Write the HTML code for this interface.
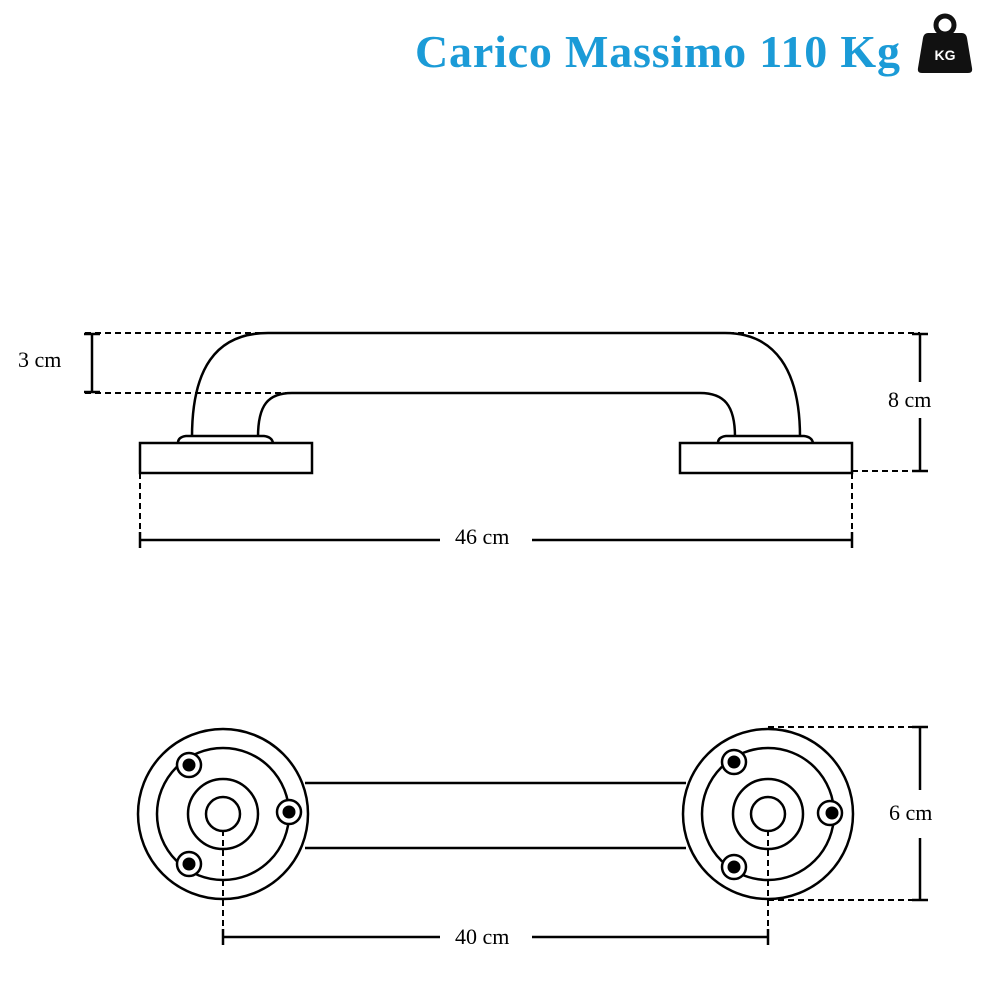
<!DOCTYPE html>
<html><head><style>
html,body{margin:0;padding:0;background:#fff;}
svg{display:block}
</style></head><body>
<svg width="1000" height="1000" viewBox="0 0 1000 1000" xmlns="http://www.w3.org/2000/svg">
<text x="415" y="67" font-family="Liberation Serif, serif" font-weight="bold" font-size="46" fill="#1b9bd7" textLength="485" lengthAdjust="spacing">Carico Massimo 110 Kg</text>
<circle cx="945" cy="25" r="9" fill="none" stroke="#111" stroke-width="5"/>
<path d="M928 33 H962 Q966 33 967 38 L972 68 Q973 73 968 73 H922 Q917 73 918 68 L923 38 Q924 33 928 33Z" fill="#111"/>
<text x="945" y="60" text-anchor="middle" font-family="Liberation Sans, sans-serif" font-weight="bold" font-size="14" fill="#fff">KG</text>

<g fill="none" stroke="#000" stroke-width="2.5">
<path d="M192 437 C192 370 215 333 268 333 H725 C775 333 800 370 800 437"/>
<path d="M258 437 C258 405 268 393 292 393 H700 C724 393 735 405 735 437"/>
<path d="M178 443 Q178 437 186 436 H264 Q272 437 273 443"/>
<path d="M718 443 Q718 437 726 436 H804 Q812 437 813 443"/>
<rect x="140" y="443" width="172" height="30"/>
<rect x="680" y="443" width="172" height="30"/>
</g>
<g stroke="#000" stroke-width="2" stroke-dasharray="6,4" fill="none">
<line x1="85" y1="333" x2="262" y2="333"/>
<line x1="85" y1="393" x2="292" y2="393"/>
<line x1="728" y1="333" x2="920" y2="333"/>
<line x1="852" y1="471" x2="920" y2="471"/>
<line x1="140" y1="473" x2="140" y2="540"/>
<line x1="852" y1="473" x2="852" y2="540"/>
<line x1="768" y1="727" x2="920" y2="727"/>
<line x1="768" y1="900" x2="920" y2="900"/>
<line x1="223" y1="830" x2="223" y2="937"/>
<line x1="768" y1="830" x2="768" y2="937"/>
</g>
<g stroke="#000" stroke-width="2.5" fill="none">
<line x1="92" y1="333" x2="92" y2="393"/>
<line x1="84" y1="334" x2="100" y2="334"/><line x1="84" y1="392" x2="100" y2="392"/>
<line x1="920" y1="333" x2="920" y2="382"/><line x1="920" y1="418" x2="920" y2="471"/>
<line x1="912" y1="334" x2="928" y2="334"/><line x1="912" y1="471" x2="928" y2="471"/>
<line x1="140" y1="540" x2="440" y2="540"/><line x1="532" y1="540" x2="852" y2="540"/>
<line x1="140" y1="532" x2="140" y2="548"/><line x1="852" y1="532" x2="852" y2="548"/>
<line x1="920" y1="727" x2="920" y2="790"/><line x1="920" y1="838" x2="920" y2="900"/>
<line x1="912" y1="727" x2="928" y2="727"/><line x1="912" y1="900" x2="928" y2="900"/>
<line x1="223" y1="937" x2="440" y2="937"/><line x1="532" y1="937" x2="768" y2="937"/>
<line x1="223" y1="929" x2="223" y2="945"/><line x1="768" y1="929" x2="768" y2="945"/>
</g>
<g font-family="Liberation Serif, serif" font-size="22" fill="#000">
<text x="18" y="367">3 cm</text>
<text x="888" y="407">8 cm</text>
<text x="455" y="544">46 cm</text>
<text x="889" y="820">6 cm</text>
<text x="455" y="944">40 cm</text>
</g>

<g fill="none" stroke="#000" stroke-width="2.5">
<line x1="305" y1="783" x2="686" y2="783"/>
<line x1="305" y1="848" x2="686" y2="848"/>
<circle cx="223" cy="814" r="85"/>
<circle cx="768" cy="814" r="85"/>
<circle cx="223" cy="814" r="35"/><circle cx="223" cy="814" r="17"/>
<circle cx="768" cy="814" r="35"/><circle cx="768" cy="814" r="17"/>
<circle cx="223" cy="814" r="66"/>
<circle cx="768" cy="814" r="66"/>
</g>
<g fill="#fff" stroke="#000" stroke-width="2.5">
<circle cx="189" cy="765" r="12"/><circle cx="289" cy="812" r="12"/><circle cx="189" cy="864" r="12"/>
<circle cx="734" cy="762" r="12"/><circle cx="830" cy="813" r="12"/><circle cx="734" cy="867" r="12"/>
</g>
<g fill="#fff">
<circle cx="189" cy="765" r="9.5"/><circle cx="289" cy="812" r="9.5"/><circle cx="189" cy="864" r="9.5"/>
<circle cx="734" cy="762" r="9.5"/><circle cx="830" cy="813" r="9.5"/><circle cx="734" cy="867" r="9.5"/>
</g>
<g fill="#000">
<circle cx="189" cy="765" r="6.5"/><circle cx="289" cy="812" r="6.5"/><circle cx="189" cy="864" r="6.5"/>
<circle cx="734" cy="762" r="6.5"/><circle cx="832" cy="813" r="6.5"/><circle cx="734" cy="867" r="6.5"/>
</g>
</svg>
</body></html>
